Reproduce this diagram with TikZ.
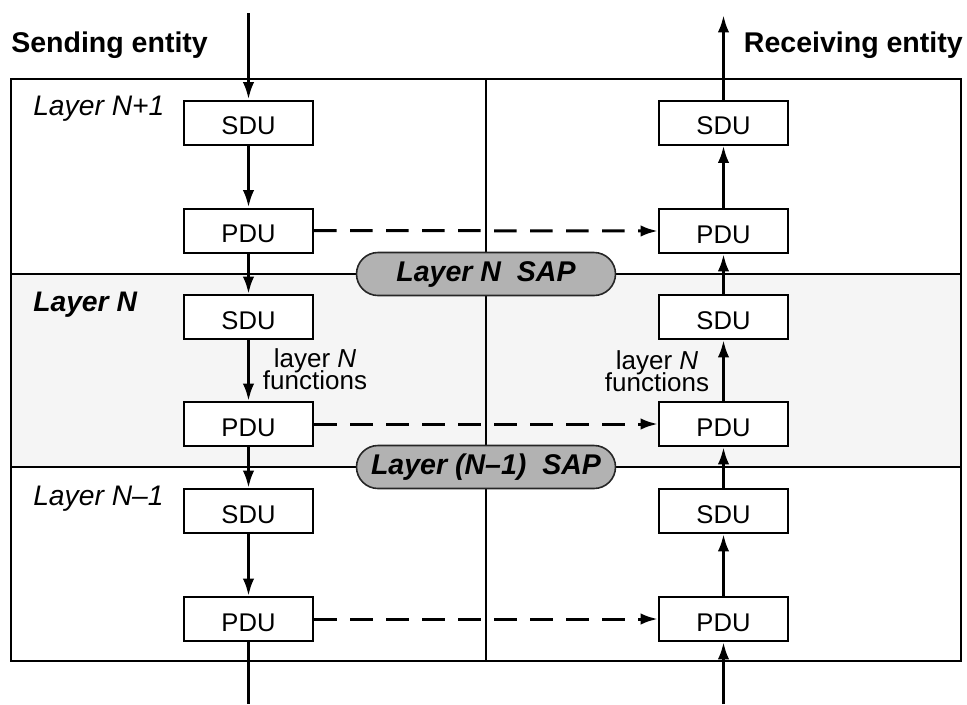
\documentclass[tikz,border=0pt]{standalone}
\usepackage{fontspec}
\setmainfont{Liberation Sans}
\usetikzlibrary{arrows.meta,shapes.misc}

\begin{document}
\begin{tikzpicture}[x=0.75pt,y=-0.75pt,
  unitbox/.style={draw,line width=1.5pt,fill=white,minimum width=96.75pt,minimum height=33pt,
    inner sep=0pt,font=\fontsize{19.2}{23}\selectfont,text height=18.2pt,text depth=0pt},
  flow/.style={line width=2.25pt,-{Latex[length=13pt,width=8.5pt]}},
  peer/.style={flow,dash pattern=on 17pt off 10pt},
  sap/.style={rounded rectangle,draw=black!85,line width=1.2pt,fill=black!30,
    minimum width=194.25pt,minimum height=32.25pt,inner sep=0pt,
    font=\fontsize{21.4}{25}\selectfont\bfseries\itshape},
  layerlbl/.style={anchor=base west,inner sep=0pt,font=\fontsize{21.2}{25}\selectfont\itshape},
  entity/.style={inner sep=0pt,font=\fontsize{21.4}{25}\selectfont\bfseries},
  fnlbl/.style={align=center,inner sep=0pt,font=\fontsize{19.5}{15}\selectfont}
]
\useasboundingbox (0,0) rectangle (967,704);

% layer frame
\fill[black!4] (11,274) rectangle (961,467);
\draw[line width=1.5pt] (11,79) rectangle (961,661);
\draw[line width=1.5pt] (11,274) -- (961,274) (11,467) -- (961,467) (486,79) -- (486,661);

% service access points
\node[sap] (sapN) at (486,274) {Layer N\ \ SAP};
\node[sap] (sapNm) at (486,467) {Layer (N–1)\ \ SAP};

% entity titles
\node[entity,anchor=base west] (send) at (11,52) {Sending entity};
\node[entity,anchor=base east] (recv) at (963,52) {Receiving entity};

% layer names
\node[layerlbl] (lyrA) at (33,115.5) {Layer N+1};
\node[layerlbl] (lyrB) at (33,311) {\bfseries Layer N};
\node[layerlbl] (lyrC) at (33,505) {Layer N–1};

% sending side
\node[unitbox] (sS3) at (248.5,122.5) {SDU};
\node[unitbox] (sP3) at (248.5,230.5) {PDU};
\node[unitbox] (sS2) at (248.5,317) {SDU};
\node[unitbox] (sP2) at (248.5,424) {PDU};
\node[unitbox] (sS1) at (248.5,511) {SDU};
\node[unitbox] (sP1) at (248.5,619) {PDU};

% receiving side
\node[unitbox] (rS3) at (723.5,122.5) {SDU};
\node[unitbox] (rP3) at (723.5,231) {PDU};
\node[unitbox] (rS2) at (723.5,317) {SDU};
\node[unitbox] (rP2) at (723.5,424) {PDU};
\node[unitbox] (rS1) at (723.5,511) {SDU};
\node[unitbox] (rP1) at (723.5,619) {PDU};

\coordinate (sIn) at (248.5,13);
\coordinate (sOut) at (248.5,704);
\coordinate (rIn) at (723.5,704);
\coordinate (rOut) at (723.5,15);

% downward flow on the sending side
\draw[flow] (sIn) -- (sS3.north);
\draw[flow] (sS3.south) -- (sP3.north);
\draw[flow] (sP3.south) -- (sS2.north);
\draw[flow] (sS2.south) -- (sP2.north);
\draw[flow] (sP2.south) -- (sS1.north);
\draw[flow] (sS1.south) -- (sP1.north);
\draw[line width=2.25pt] (sP1.south) -- (sOut);

% upward flow on the receiving side
\draw[flow] (rIn) -- (rP1.south);
\draw[flow] (rP1.north) -- (rS1.south);
\draw[flow] (rS1.north) -- (rP2.south);
\draw[flow] (rP2.north) -- (rS2.south);
\draw[flow] (rS2.north) -- (rP3.south);
\draw[flow] (rP3.north) -- (rS3.south);
\draw[flow] (rS3.north) -- (rOut);

% peer protocol exchanges
\draw[peer] (sP3.east) -- (rP3.west);
\draw[peer] (sP2.east) -- (rP2.west);
\draw[peer] (sP1.east) -- (rP1.west);

% layer functions
\node[fnlbl,anchor=base] (fnS) at (315,389) {layer \textit{N}\\[-3pt]functions};
\node[fnlbl,anchor=base] (fnR) at (657,391) {layer \textit{N}\\[-3pt]functions};
\end{tikzpicture}
\end{document}
